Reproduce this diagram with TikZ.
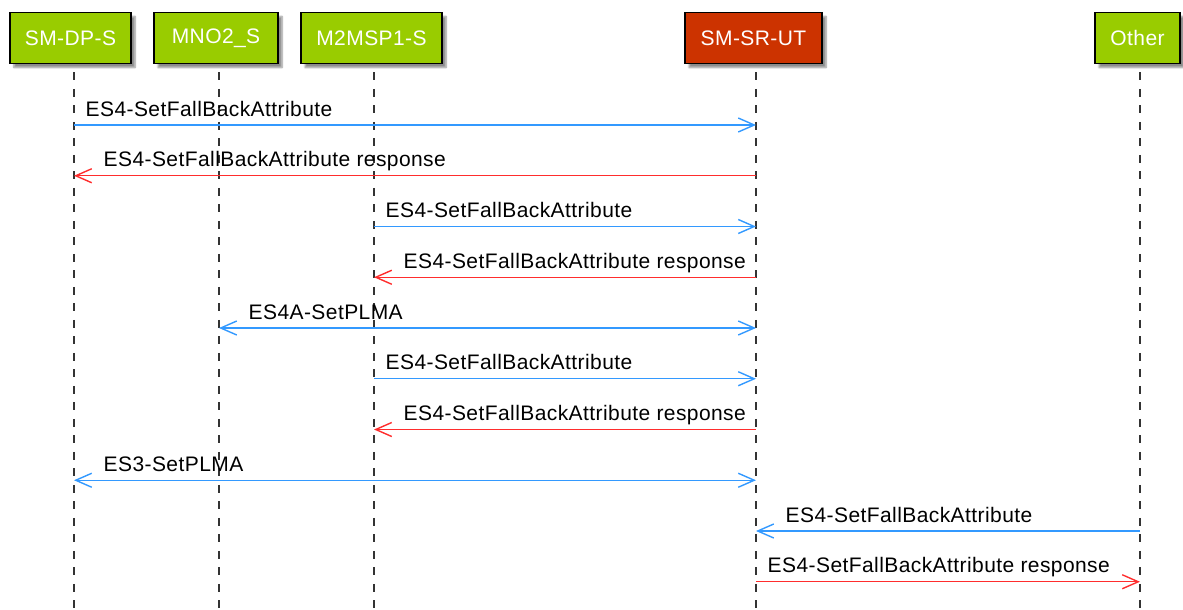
\documentclass[tikz,border=0pt]{standalone}
\usepackage{fontspec}
\newfontfamily\umlfont{Liberation Sans}[LetterSpace=2]
\usetikzlibrary{arrows.meta,shadows.blur}
\definecolor{boxgreen}{RGB}{153,204,0}
\definecolor{boxred}{RGB}{204,51,0}
\definecolor{reqblue}{RGB}{51,153,255}
\definecolor{respred}{RGB}{255,45,45}
\begin{document}
\begin{tikzpicture}[x=1pt,y=-1pt,
  actor/.style={draw=black,line width=1.6pt,fill=boxgreen,text=white,minimum height=51pt,inner sep=0pt,
    font=\umlfont\fontsize{21}{25}\selectfont,
    blur shadow={shadow xshift=4pt,shadow yshift=-4pt,shadow blur steps=6,shadow opacity=45}},
  life/.style={line width=1.3pt,black!80,dash pattern=on 8pt off 8.5pt,shorten <=8pt},
  req/.style={-{Straight Barb[length=16pt,width=14pt]},line width=1.4pt,reqblue},
  both/.style={{Straight Barb[length=16pt,width=14pt]}-{Straight Barb[length=16pt,width=14pt]},line width=1.4pt,reqblue},
  resp/.style={-{Straight Barb[length=16pt,width=14pt]},line width=1.4pt,respred},
  msg/.style={anchor=base west,yshift=9pt,inner sep=0pt,text=black,font=\umlfont\fontsize{21}{25}\selectfont}]
\useasboundingbox (0,0) rectangle (1183,610);
% participants
\node[actor,minimum width=121pt] (dp) at (70.5,38) {SM-DP-S};
\node[actor,minimum width=124pt] (mno) at (216,38) {MNO2\_S};
\node[actor,minimum width=141pt] (msp) at (371.5,38) {M2MSP1-S};
\node[actor,minimum width=137pt,fill=boxred] (sr) at (753.5,38) {SM-SR-UT};
\node[actor,minimum width=85pt] (oth) at (1137.5,38) {Other};
% lifelines and message rows
\foreach \n/\x in {dp/74,mno/219,msp/374,sr/756,oth/1140}{
  \coordinate (\n end) at (\x,610);
  \foreach \r in {1,...,10}
    \coordinate (\n\r) at (\x,{125+50.75*(\r-1)});
}
\draw[life] (dpend |- dp.south)--(dpend);
\draw[life] (mnoend |- mno.south)--(mnoend);
\draw[life] (mspend |- msp.south)--(mspend);
\draw[life] (srend |- sr.south)--(srend);
\draw[life] (othend |- oth.south)--(othend);
% messages
\draw[req] (dp1)--(sr1) node[msg,pos=0,xshift=11pt]{ES4-SetFallBackAttribute};
\draw[resp] (sr2)--(dp2) node[msg,pos=1,xshift=29pt]{ES4-SetFallBackAttribute response};
\draw[req] (msp3)--(sr3) node[msg,pos=0,xshift=11pt]{ES4-SetFallBackAttribute};
\draw[resp] (sr4)--(msp4) node[msg,pos=1,xshift=29pt]{ES4-SetFallBackAttribute response};
\draw[both] (mno5)--(sr5) node[msg,pos=0,xshift=29pt]{ES4A-SetPLMA};
\draw[req] (msp6)--(sr6) node[msg,pos=0,xshift=11pt]{ES4-SetFallBackAttribute};
\draw[resp] (sr7)--(msp7) node[msg,pos=1,xshift=29pt]{ES4-SetFallBackAttribute response};
\draw[both] (dp8)--(sr8) node[msg,pos=0,xshift=29pt]{ES3-SetPLMA};
\draw[req] (oth9)--(sr9) node[msg,pos=1,xshift=29pt]{ES4-SetFallBackAttribute};
\draw[resp] (sr10)--(oth10) node[msg,pos=0,xshift=11pt]{ES4-SetFallBackAttribute response};
\end{tikzpicture}
\end{document}
